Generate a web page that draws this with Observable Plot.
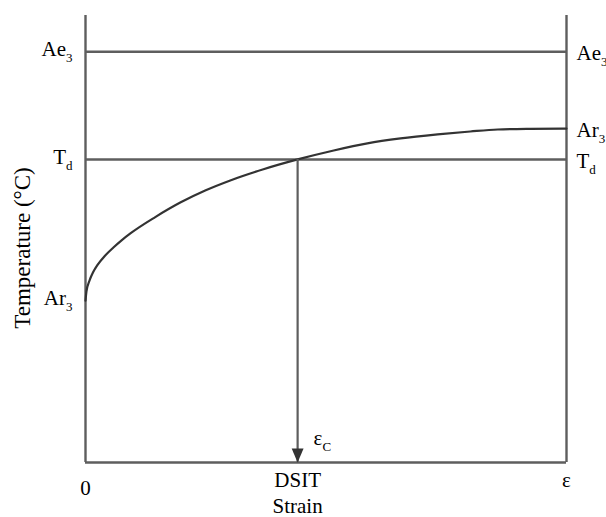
<!DOCTYPE html>
<html>
<head>
<meta charset="utf-8">
<script src="https://cdn.jsdelivr.net/npm/d3@7"></script>
<script src="https://cdn.jsdelivr.net/npm/@observablehq/plot@0.6"></script>
<style>
  html, body { margin: 0; padding: 0; background: #fff; }
  #chart { width: 606px; height: 517px; overflow: hidden; }
</style>
</head>
<body>
<div id="chart"></div>
<script>
// ---- Data (schematic, arbitrary units: strain 0–1, temperature 0–100) ----
const strain      = [0, 0.002, 0.008, 0.016, 0.025, 0.040, 0.058, 0.075, 0.094, 0.145, 0.198, 0.250, 0.301, 0.370, 0.441, 0.516, 0.586, 0.655, 0.732, 0.800, 0.857, 0.925, 1.0];
const temperature = [36.2, 38.3, 40.6, 42.6, 44.2, 46.2, 48.1, 49.7, 51.3, 54.9, 58.2, 60.9, 63.1, 65.6, 67.8, 69.8, 71.4, 72.5, 73.4, 74.05, 74.5, 74.65, 74.7];
const ae3 = 91.9;          // Ae3 temperature level
const td = 67.8;           // Td level
const epsC = 0.441;        // critical strain (DSIT)
const strainMax = 1;
const tempMax = 100;

const leftLabels  = ["Ae|3", "T|d", "Ar|3"];
const leftTemps   = [ae3, td, temperature[0]];
const rightLabels = ["Ae|3", "Ar|3", "T|d"];
const rightTemps  = [ae3, temperature[temperature.length - 1], td];
const originLabel = "0";
const bottomLabels = ["DSIT", "ε"];
const bottomStrain = [epsC, strainMax];
const xTitle = "Strain";
const yTitle = "Temperature (°C)";
const epsLabel = "ε|C";

// ---- Tables built from arrays ----
const curve = strain.map((s, i) => ({s, t: temperature[i]}));
const left = leftLabels.map((l, i) => ({l, t: leftTemps[i]}));
const right = rightLabels.map((l, i) => ({l, t: rightTemps[i]}));
const bottom = bottomLabels.map((l, i) => ({l, s: bottomStrain[i]}));

const gray = "#5e5e5e";
const font = "Liberation Serif, Times New Roman, serif";

const arrowHead = {
  draw(ctx, size) {
    const r = Math.sqrt(size / Math.PI);
    ctx.moveTo(0, 0);
    ctx.lineTo(-0.85 * r, -2 * r);
    ctx.lineTo(0.85 * r, -2 * r);
    ctx.closePath();
  }
};

const chart = Plot.plot({
  width: 606,
  height: 517,
  marginLeft: 85,
  marginRight: 40,
  marginTop: 15,
  marginBottom: 55,
  x: {domain: [0, strainMax], axis: null},
  y: {domain: [0, tempMax], axis: null},
  style: {background: "#fff", fontFamily: font, overflow: "visible"},
  marks: [
    // frame: left, right, bottom
    Plot.ruleX([0, strainMax], {y1: 0, y2: tempMax, stroke: gray, strokeWidth: 2.4}),
    Plot.ruleY([0], {x1: 0, x2: strainMax, stroke: gray, strokeWidth: 2.4}),
    // Ae3 and Td levels
    Plot.ruleY([ae3, td], {x1: 0, x2: strainMax, stroke: gray, strokeWidth: 2.4}),
    // Ar3 curve
    Plot.line(curve, {x: "s", y: "t", curve: "monotone-x", stroke: "#333", strokeWidth: 2.2}),
    // arrow from intersection down to the strain axis
    Plot.ruleX([epsC], {y1: td, y2: 0, stroke: gray, strokeWidth: 2.2}),
    Plot.dot([epsC], {x: d => d, y: () => 0, symbol: arrowHead, r: 7, fill: "#333", stroke: null}),
    // left labels
    Plot.text(left, {x: () => 0, y: "t", text: "l", textAnchor: "end", dx: -13, dy: -2,
      fontSize: 21, fill: "#000", fontFamily: font}),
    // right labels
    Plot.text(right, {x: () => strainMax, y: "t", text: "l", textAnchor: "start", dx: 10, dy: 2,
      fontSize: 21, fill: "#000", fontFamily: font}),
    // origin label
    Plot.text([originLabel], {x: () => 0, y: () => 0, text: d => d, textAnchor: "middle", lineAnchor: "top", dy: 18,
      fontSize: 21, fill: "#000", fontFamily: font}),
    // bottom labels
    Plot.text(bottom, {x: "s", y: () => 0, text: "l", textAnchor: "middle", lineAnchor: "top", dy: 10,
      fontSize: 21, fill: "#000", fontFamily: font}),
    // epsilon_C label near arrow
    Plot.text([epsLabel], {x: () => epsC, y: () => 0, text: d => d, textAnchor: "start", dx: 16, dy: -24,
      fontSize: 21, fill: "#000", fontFamily: font}),
    // x title
    Plot.text([xTitle], {x: () => epsC, y: () => 0, text: d => d, textAnchor: "middle", lineAnchor: "bottom", dy: 50,
      fontSize: 21, fill: "#000", fontFamily: font}),
    // y title
    Plot.text([yTitle], {frameAnchor: "left", text: d => d, rotate: -90, textAnchor: "middle", lineAnchor: "middle",
      dx: -63, dy: 9, fontSize: 23, fill: "#000", fontFamily: font})
  ]
});

// turn "base|sub" into text with a subscript tspan
d3.select(chart).selectAll("text").each(function () {
  const txt = this.textContent;
  if (!txt.includes("|")) return;
  const [base, sub] = txt.split("|");
  const sel = d3.select(this);
  sel.text(null);
  sel.append("tspan").text(base);
  sel.append("tspan").attr("font-size", 13).attr("dy", 6).attr("fill", "#000").text(sub);
});

document.getElementById("chart").append(chart);
</script>
</body>
</html>
